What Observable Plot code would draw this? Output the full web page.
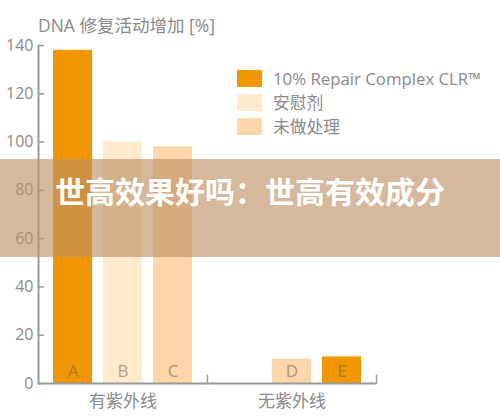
<!DOCTYPE html>
<html>
<head>
<meta charset="utf-8">
<script src="https://cdn.jsdelivr.net/npm/d3@7"></script>
<script src="https://cdn.jsdelivr.net/npm/@observablehq/plot@0.6"></script>
<style>
  html, body { margin: 0; padding: 0; background: #fff; }
  #wrap { position: relative; width: 500px; height: 416px; overflow: hidden; font-family: "Open Sans", "Noto Sans CJK SC", sans-serif; }
  #chart { position: absolute; left: 0; top: 0; }
  #title { position: absolute; left: 38px; top: 15px; font-size: 17.5px; line-height: 20px; color: #8a8a8a; white-space: nowrap; }
  #legend { position: absolute; left: 237px; top: 66px; }
  .row { display: flex; align-items: center; height: 24px; }
  .sw { width: 25px; height: 17px; margin-right: 11px; }
  .lab { font-size: 16.8px; color: #8a8a8a; white-space: nowrap; }
  #banner { position: absolute; left: 0; top: 159px; width: 500px; height: 98px; background: rgba(191,144,100,0.64); }
  #banner div { position: absolute; left: 0; width: 500px; top: 16px; text-align: center; color: #fff; font-weight: 700; font-size: 30px; line-height: 30px; font-family: "Noto Sans CJK SC", sans-serif; white-space: nowrap; }
</style>
</head>
<body>
<div id="wrap">
  <div id="chart"></div>
  <div id="title"></div>
  <div id="legend"></div>
  <div id="banner"><div></div></div>
</div>
<script>
const titleText = "DNA 修复活动增加 [%]";
const bannerText = "世高效果好吗：世高有效成分";
const groups = ["有紫外线", "无紫外线"];
const slots = ["1", "2", "3"];
const barGroup = ["有紫外线", "有紫外线", "有紫外线", "无紫外线", "无紫外线"];
const barSlot = ["1", "2", "3", "2", "3"];
const barLetter = ["A", "B", "C", "D", "E"];
const seriesNames = ["10% Repair Complex CLR™", "安慰剂", "未做处理"];
const seriesColors = ["#F29600", "#FDEBCC", "#FDD7A9"];
const barSeries = [seriesNames[0], seriesNames[1], seriesNames[2], seriesNames[2], seriesNames[0]];
const barValue = [138, 100, 98, 10, 11];
const yTicks = [0, 20, 40, 60, 80, 100, 120, 140];

const data = barValue.map((v, i) => ({
  group: barGroup[i], slot: barSlot[i], letter: barLetter[i], series: barSeries[i], value: v
}));

const axisColor = "#9a9a9a";
const textColor = "#8a8a8a";

const chart = Plot.plot({
  width: 500,
  height: 416,
  marginLeft: 38,
  marginRight: 124,
  marginTop: 45,
  marginBottom: 33,
  style: { fontFamily: "'Open Sans', 'Noto Sans CJK SC', sans-serif", fontSize: "16px", color: textColor, background: "transparent" },
  fx: { domain: groups, padding: 0, label: null },
  x: { domain: slots, paddingInner: 0.22, paddingOuter: 0.27, axis: null },
  y: { domain: [0, 140], label: null },
  color: { domain: seriesNames, range: seriesColors },
  marks: [
    Plot.barY(data, { fx: "group", x: "slot", y: "value", fill: "series" }),
    Plot.text(data, { fx: "group", x: "slot", y: () => 0, text: "letter", dy: -12, fill: "#7a6550", fillOpacity: 0.6, fontSize: 17 }),
    Plot.ruleY([0], { stroke: axisColor, strokeWidth: 2 }),
    Plot.frame({ anchor: "right", insetTop: 330, stroke: axisColor, strokeWidth: 1.5 }),
    Plot.frame({ anchor: "left", facet: "super", stroke: axisColor, strokeWidth: 2 }),
    Plot.tickY(yTicks, { y: d => d, fx: () => groups[0], insetRight: 163, stroke: axisColor, strokeWidth: 1.5 }),
    Plot.axisY({ ticks: yTicks, tickFormat: d => String(d), tickSize: 0, tickPadding: 5, fill: textColor, fontSize: 16, label: null }),
    Plot.axisFx({ anchor: "bottom", tickSize: 0, tickPadding: 11, label: null, fontSize: 17, fill: textColor })
  ]
});
document.getElementById("chart").appendChild(chart);

document.getElementById("title").textContent = titleText;
document.querySelector("#banner div").textContent = bannerText;
const legend = document.getElementById("legend");
seriesNames.forEach((name, i) => {
  const row = document.createElement("div");
  row.className = "row";
  const sw = document.createElement("div");
  sw.className = "sw";
  sw.style.background = seriesColors[i];
  const lab = document.createElement("div");
  lab.className = "lab";
  lab.textContent = name;
  row.appendChild(sw);
  row.appendChild(lab);
  legend.appendChild(row);
});
</script>
</body>
</html>
